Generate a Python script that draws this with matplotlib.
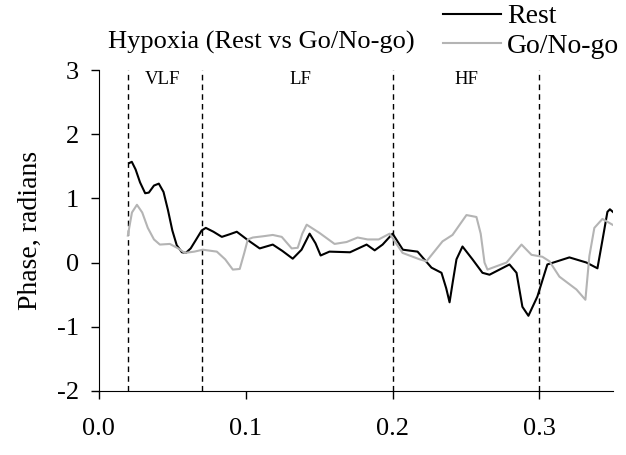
import numpy as np
import matplotlib
matplotlib.use("Agg")
import matplotlib.pyplot as plt

plt.rcParams['font.family'] = 'Liberation Serif'
plt.rcParams['axes.unicode_minus'] = False

# frequency (Hz) and phase (radians)
rest_f = [0.0206, 0.0224, 0.0250, 0.0280, 0.0315, 0.0340, 0.0375, 0.0408, 0.0440,
          0.0470, 0.0500, 0.0530, 0.0565, 0.0592, 0.0625, 0.0660, 0.0700, 0.0728,
          0.0780, 0.0837, 0.0890, 0.0939, 0.1014, 0.1095, 0.1184, 0.1250, 0.1320,
          0.1380, 0.1435, 0.1475, 0.1510, 0.1570, 0.1710, 0.1823, 0.1878, 0.1932,
          0.2000, 0.2070, 0.2170, 0.2265, 0.2333, 0.2365, 0.2388, 0.2410, 0.2435,
          0.2476, 0.2544, 0.2612, 0.2660, 0.2796, 0.2844, 0.2884, 0.2925, 0.2986,
          0.3054, 0.3204, 0.3320, 0.3395, 0.3430, 0.3463, 0.3480, 0.3500]
rest_phase = [1.55, 1.57, 1.45, 1.25, 1.08, 1.09, 1.20, 1.23, 1.10,
              0.82, 0.50, 0.27, 0.16, 0.15, 0.22, 0.35, 0.50, 0.54,
              0.48, 0.40, 0.44, 0.48, 0.35, 0.22, 0.28, 0.18, 0.06,
              0.20, 0.45, 0.30, 0.11, 0.17, 0.16, 0.28, 0.19, 0.28,
              0.45, 0.20, 0.17, -0.08, -0.16, -0.40, -0.62, -0.30, 0.05,
              0.25, 0.05, -0.16, -0.19, -0.03, -0.16, -0.69, -0.83, -0.53,
              -0.03, 0.08, 0.00, -0.09, 0.36, 0.79, 0.83, 0.79]

gng_f = [0.0197, 0.0225, 0.0259, 0.0295, 0.0333, 0.0375, 0.0415, 0.0483, 0.0540,
         0.0585, 0.0650, 0.0707, 0.0803, 0.0860, 0.0912, 0.0959, 0.0990, 0.1014,
         0.1048, 0.1120, 0.1184, 0.1245, 0.1313, 0.1354, 0.1385, 0.1415, 0.1503,
         0.1605, 0.1687, 0.1762, 0.1830, 0.1905, 0.1980, 0.2068, 0.2184, 0.2231,
         0.2340, 0.2408, 0.2460, 0.2503, 0.2571, 0.2600, 0.2626, 0.2646, 0.2776,
         0.2878, 0.2946, 0.3020, 0.3068, 0.3136, 0.3252, 0.3313, 0.3340, 0.3374,
         0.3429, 0.3497]
gng_phase = [0.42, 0.78, 0.90, 0.78, 0.54, 0.36, 0.28, 0.29, 0.22,
             0.15, 0.17, 0.20, 0.17, 0.05, -0.11, -0.10, 0.15, 0.36,
             0.39, 0.41, 0.43, 0.40, 0.22, 0.23, 0.45, 0.59, 0.46,
             0.29, 0.32, 0.39, 0.36, 0.36, 0.45, 0.15, 0.05, 0.02,
             0.33, 0.43, 0.60, 0.74, 0.71, 0.45, 0.00, -0.11, 0.00,
             0.28, 0.12, 0.09, 0.02, -0.22, -0.42, -0.58, 0.10, 0.54,
             0.68, 0.59]

band_edges = [0.02, 0.07, 0.2, 0.3]
band_names = ['VLF', 'LF', 'HF']
band_centers = [0.043, 0.137, 0.250]

fig = plt.figure(figsize=(6.26, 4.55), dpi=100)
ax = fig.add_axes([0.158, 0.141, 0.821, 0.705])

ax.plot(rest_f, rest_phase, color='black', lw=1.5, label='Rest')
ax.plot(gng_f, gng_phase, color='#b4b4b4', lw=1.5, label='Go/No-go')

for xe in band_edges:
    ax.axvline(xe, color='black', lw=1, ls=(0, (4, 3)), zorder=0)
for name, xc in zip(band_names, band_centers):
    ax.text(xc, 2.85, name, ha='center', va='center', fontsize=13.5)

ax.set_xlim(0, 0.35)
ax.set_ylim(-2, 3)
ax.set_xticks([0.0, 0.1, 0.2, 0.3])
ax.set_xticklabels(['0.0', '0.1', '0.2', '0.3'])
ax.set_yticks([-2, -1, 0, 1, 2, 3])
ax.spines['top'].set_visible(False)
ax.spines['right'].set_visible(False)
ax.tick_params(direction='out', length=5.5, width=1, labelsize=19)
ax.tick_params(axis='x', pad=14)
ax.tick_params(axis='y', pad=9)
ax.set_ylabel('Phase, radians', fontsize=20, labelpad=10)

fig.text(108 / 626, 1 - 42 / 455, 'Hypoxia (Rest vs Go/No-go)', fontsize=19,
         ha='left', va='center')
fig.legend(loc='upper left', bbox_to_anchor=(443 / 626, 1 - 4 / 455), frameon=False,
           fontsize=20, handlelength=2.1, labelspacing=0.15, handletextpad=0.2,
           borderpad=0, borderaxespad=0)

fig.savefig('out.png', dpi=100)
